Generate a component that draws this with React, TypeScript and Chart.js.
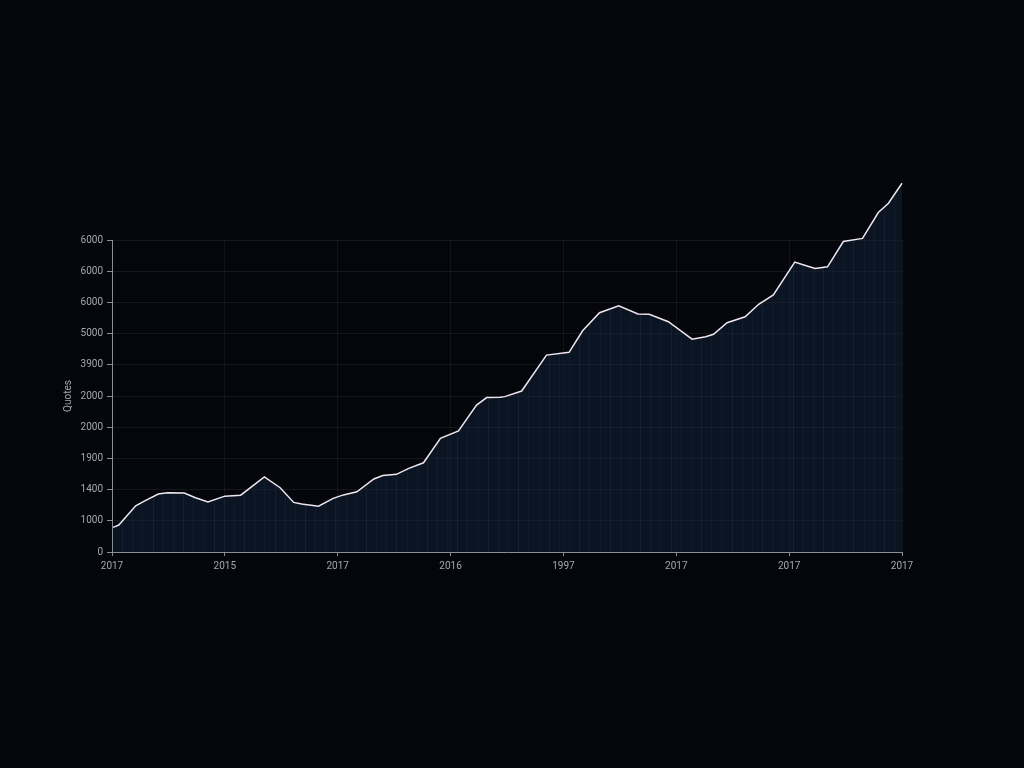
import { useEffect, useRef } from "react";
import { Chart, registerables } from "chart.js";

Chart.register(...registerables);

const xLabels = ["2017", "2015", "2017", "2016", "1997", "2017", "2017", "2017"];
const yLabels = ["0", "1000", "1400", "1900", "2000", "2000", "3900", "5000", "6000", "6000", "6000"];
const yTitle = "Quotes";

const periods = [
  0.1, 0.6, 2.1, 2.9, 4.1, 4.9, 6.4, 7.4, 8.5, 10.0, 11.4, 13.5, 14.9, 16.1, 16.8,
  18.3, 19.6, 20.5, 21.7, 23.2, 24.0, 25.2, 26.3, 27.6, 29.1, 30.7, 32.3, 33.2, 34.4,
  34.8, 36.3, 38.5, 40.5, 41.7, 43.2, 44.9, 46.6, 47.6, 49.3, 51.4, 52.6, 53.3, 54.5,
  56.1, 57.3, 58.6, 60.5, 61.3, 62.3, 63.4, 64.8, 66.5, 67.9, 68.8, 70.0,
];
const values = [
  790, 865, 1480, 1640, 1860, 1900, 1890, 1740, 1600, 1790, 1820, 2410, 2060, 1590, 1540,
  1470, 1720, 1830, 1930, 2340, 2450, 2490, 2680, 2860, 3640, 3880, 4710, 4950, 4960,
  4980, 5160, 6310, 6400, 7090, 7670, 7890, 7630, 7620, 7380, 6820, 6900, 6980, 7350,
  7540, 7940, 8240, 9290, 9200, 9090, 9140, 9950, 10050, 10880, 11180, 11820,
];

// Area under the line (drawn unclipped so it can rise above the top tick) plus faint vertical hatching
const areaPlugin = {
  id: "area",
  beforeDatasetsDraw(chart: any) {
    const meta = chart.getDatasetMeta(0);
    const pts = meta.data;
    if (!pts || !pts.length) return;
    const ctx = chart.ctx;
    const xs = chart.scales.x;
    const ys = chart.scales.y;
    const base = ys.getPixelForValue(0);
    ctx.save();
    ctx.beginPath();
    ctx.moveTo(pts[0].x, base);
    for (const p of pts) ctx.lineTo(p.x, p.y);
    ctx.lineTo(pts[pts.length - 1].x, base);
    ctx.closePath();
    ctx.fillStyle = "rgba(16,32,52,0.55)";
    ctx.fill();
    ctx.clip();
    ctx.lineWidth = 1;
    let k = 0;
    for (let v = 0; v <= 70; v += 0.9, k++) {
      const px = Math.round(xs.getPixelForValue(v)) + 0.5;
      const alpha = [0.06, 0.1, 0.075][k % 3];
      ctx.strokeStyle = `rgba(110,140,180,${alpha})`;
      ctx.beginPath();
      ctx.moveTo(px, 0);
      ctx.lineTo(px, base);
      ctx.stroke();
    }
    ctx.restore();
  },
};

export default function App() {
  const ref = useRef<HTMLCanvasElement | null>(null);
  useEffect(() => {
    if (!ref.current) return;
    const data = periods.map((p, i) => ({ x: p, y: values[i] }));
    const font = { family: "Roboto, 'DejaVu Sans', sans-serif", size: 10 };
    const chart = new Chart(ref.current, {
      type: "line",
      data: {
        datasets: [
          {
            data,
            borderColor: "#efe6ee",
            borderWidth: 1.5,
            fill: false,
            pointRadius: 0,
            tension: 0,
            clip: false as any,
          },
        ],
      },
      options: {
        animation: false,
        responsive: false,
        layout: { padding: { left: 60, top: 240, right: 122, bottom: 150 } },
        plugins: { legend: { display: false }, tooltip: { enabled: false } },
        scales: {
          x: {
            type: "linear",
            min: 0,
            max: 70,
            afterFit: (s: any) => {
              s.height = 66;
            },
            ticks: {
              stepSize: 10,
              autoSkip: false,
              maxRotation: 0,
              color: "#a4a8ae",
              font,
              padding: 4,
              callback: (v: any) => xLabels[Math.round(Number(v) / 10)] ?? "",
            },
            grid: { color: "rgba(255,255,255,0.06)", tickColor: "#8a8f96", tickLength: 4 },
            border: { color: "#8a8f96", width: 1 },
          },
          y: {
            type: "linear",
            min: 0,
            max: 10000,
            afterFit: (s: any) => {
              s.width = 52;
            },
            ticks: {
              stepSize: 1000,
              color: "#a4a8ae",
              font,
              padding: 4,
              callback: (v: any) => yLabels[Math.round(Number(v) / 1000)] ?? "",
            },
            title: { display: true, text: yTitle, color: "#a4a8ae", font, padding: 2 },
            grid: { color: "rgba(255,255,255,0.07)", tickColor: "#8a8f96", tickLength: 5 },
            border: { color: "#8a8f96", width: 1 },
          },
        },
      },
      plugins: [areaPlugin],
    });
    return () => chart.destroy();
  }, []);
  return (
    <div style={{ position: "fixed", left: 0, top: 0, width: 1024, height: 768, background: "#04060c" }}>
      <canvas ref={ref} width={1024} height={768} style={{ display: "block" }} />
    </div>
  );
}
